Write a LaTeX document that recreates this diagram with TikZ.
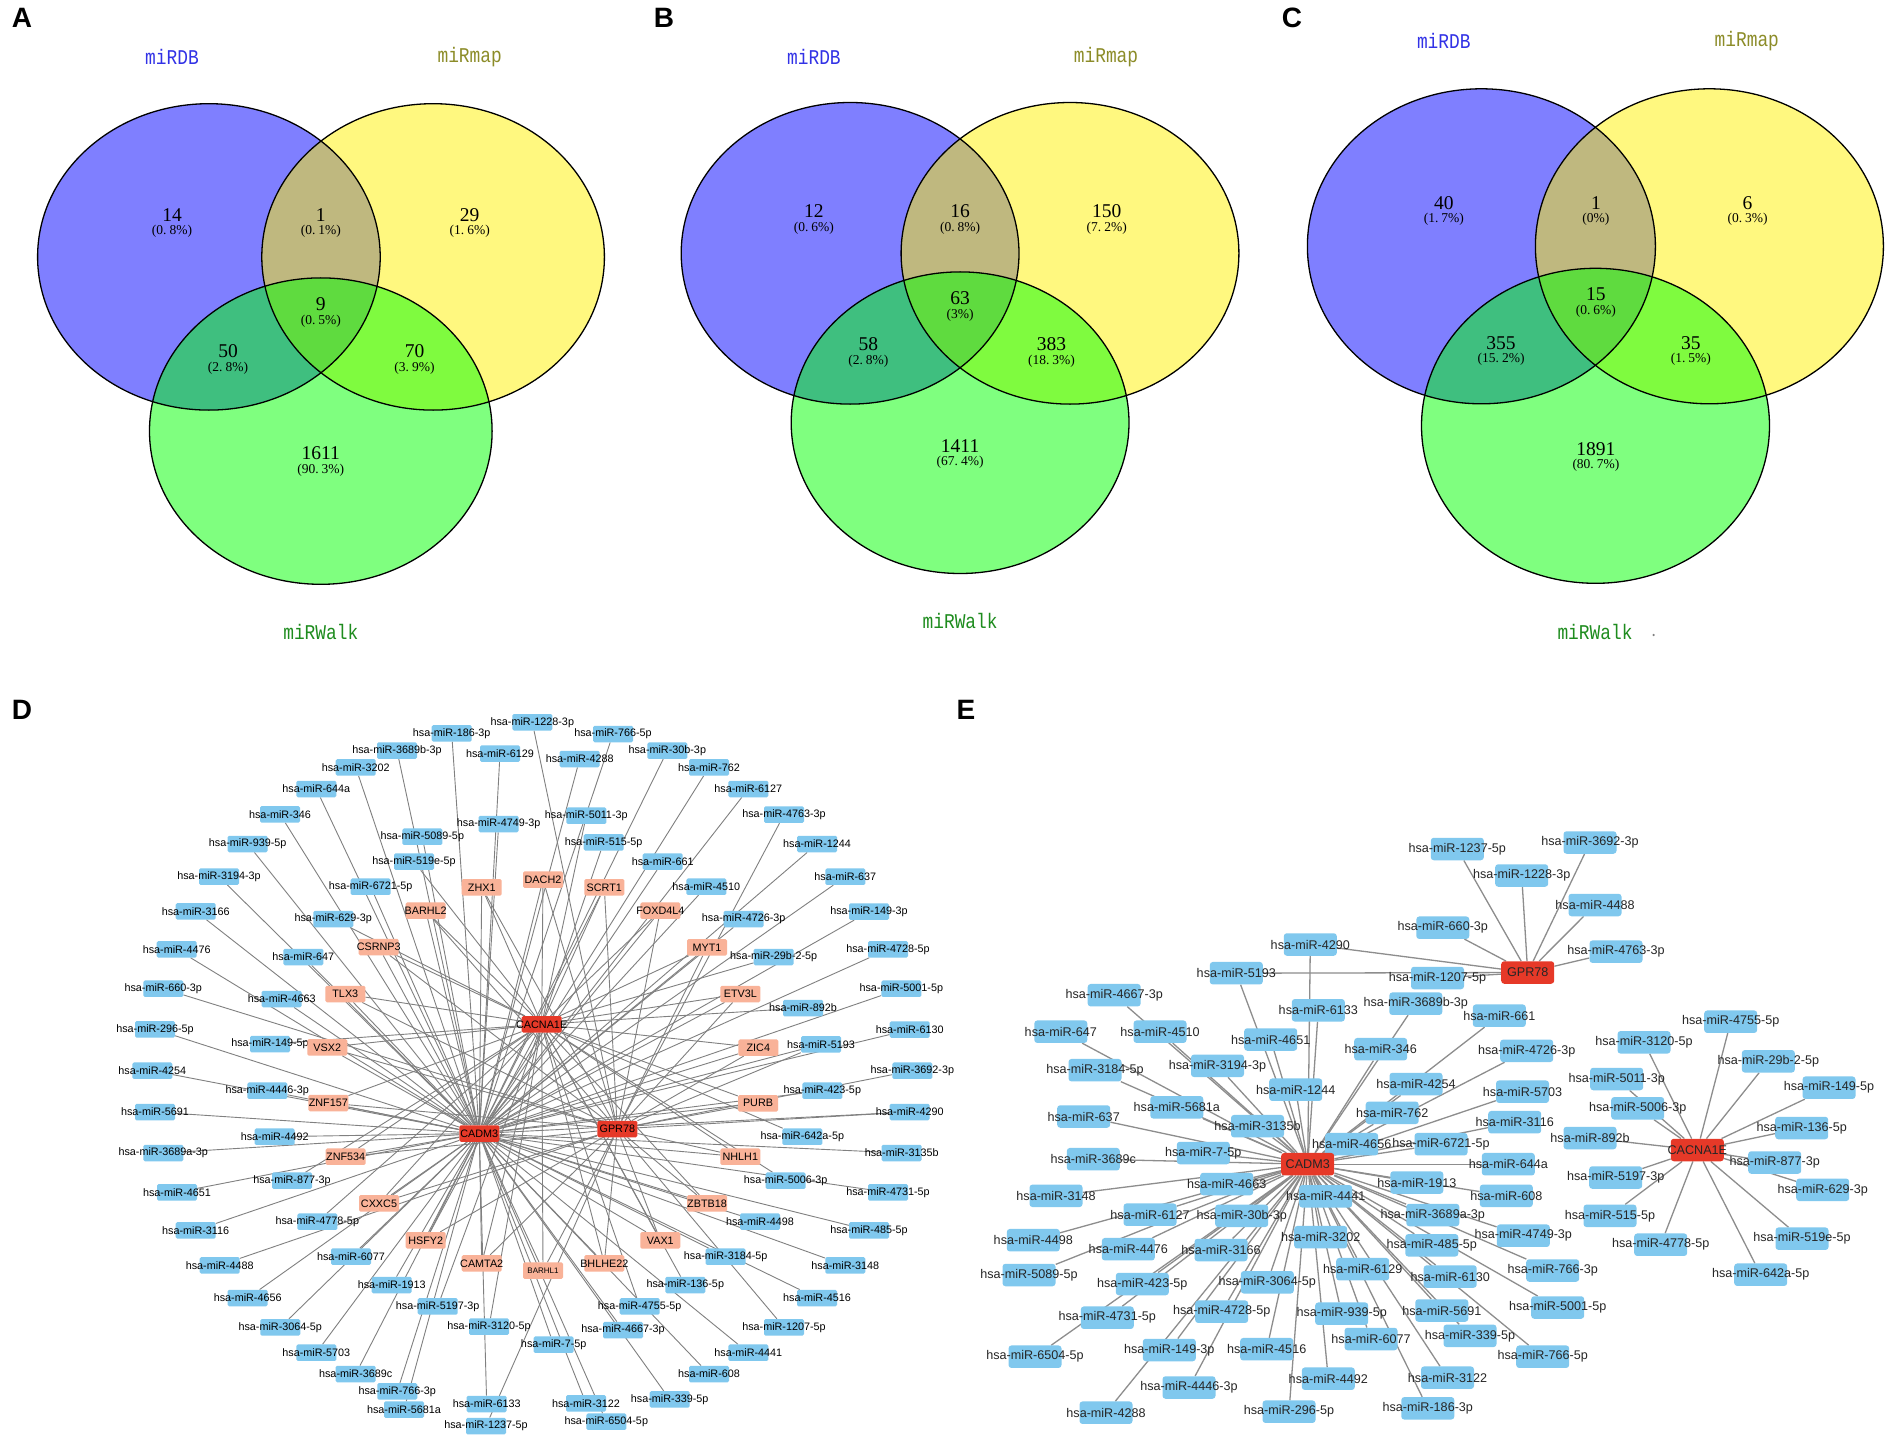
\documentclass[tikz,border=0pt]{standalone}
\usepackage{fontspec}
\setmainfont{Liberation Sans}
\newfontfamily\vennfont[FakeStretch=0.85]{Liberation Mono}
\newfontfamily\vennnum{Liberation Serif}
\usetikzlibrary{backgrounds}
\definecolor{mirblue}{RGB}{128,200,238}
\definecolor{genesalm}{RGB}{249,178,152}
\definecolor{hubred}{RGB}{230,57,40}
\definecolor{edgegray}{RGB}{128,128,128}
\definecolor{dbblue}{RGB}{50,50,230}
\definecolor{mapolive}{RGB}{140,140,40}
\definecolor{walkgreen}{RGB}{30,140,30}
\tikzset{
  panellab/.style={font=\fontsize{28bp}{30bp}\selectfont\bfseries, inner sep=0pt},
  vname/.style={font=\vennfont\fontsize{21bp}{23bp}\selectfont, inner sep=0pt},
  vnum/.style={font=\vennnum\fontsize{19.5bp}{21bp}\selectfont, inner sep=0pt},
  vpct/.style={font=\vennnum\fontsize{13.5bp}{15bp}\selectfont, inner sep=0pt},
  vline/.style={draw=black, line width=1.3bp},
  dlabel/.style={font=\fontsize{10.8bp}{12bp}\selectfont, inner sep=0pt, text=black},
  dsmall/.style={font=\fontsize{8bp}{9bp}\selectfont, inner sep=0pt, text=black},
  dbox/.style={rounded corners=1.5bp, minimum width=40bp, minimum height=16.5bp, inner sep=0pt},
  dmir/.style={dbox, fill=mirblue, label={[dlabel]center:#1}},
  dgene/.style={dbox, fill=genesalm, label={[dlabel]center:#1}},
  dhub/.style={dbox, fill=hubred, label={[dlabel]center:#1}},
  elabel/.style={font=\fontsize{12.6bp}{14bp}\selectfont, inner sep=0pt, text=black!85},
  ebox/.style={rounded corners=3bp, minimum width=53bp, minimum height=22.5bp, inner sep=0pt},
  emir/.style={ebox, fill=mirblue, label={[elabel]center:#1}},
  ehub/.style={ebox, fill=hubred, label={[elabel]center:#1}},
  dedge/.style={draw=edgegray, line width=0.9bp},
  eedge/.style={draw=edgegray!90, line width=1.3bp},
}
\newcommand\Dmir[3]{\node[dmir={hsa-miR-#1}] (d#1) at (#2,#3) {};}
\newcommand\Dgene[3]{\node[dgene={#1}] (d#1) at (#2,#3) {};}
\newcommand\Emir[3]{\node[emir={hsa-miR-#1}] (e#1) at (#2,#3) {};}
\newcommand\Dp{.\kern0.22em}
\newcommand\VennTri[7]{%
  \fill[blue, fill opacity=0.5] (#1,#4) ellipse [x radius=#6bp, y radius=#7bp];
  \fill[yellow, fill opacity=0.5] (#2,#4) ellipse [x radius=#6bp, y radius=#7bp];
  \fill[green, fill opacity=0.5] (#3,#5) ellipse [x radius=#6bp, y radius=#7bp];
  \draw[vline] (#1,#4) ellipse [x radius=#6bp, y radius=#7bp];
  \draw[vline] (#2,#4) ellipse [x radius=#6bp, y radius=#7bp];
  \draw[vline] (#3,#5) ellipse [x radius=#6bp, y radius=#7bp];}
\newcommand\Vreg[5]{\node[vnum] (#1n) at (#2,#3-1.2) {#4};
  \node[vpct] (#1p) at (#2,#3+15.6) {#5};}
\begin{document}
\begin{tikzpicture}[x=1bp,y=-1bp]
\useasboundingbox (0,0) rectangle (1890,1440);

% ---------------- Venn A ----------------
\node[panellab] (labA) at (22,18) {A};
\VennTri{208.9}{433.1}{320.8}{256.9}{431.1}{171.3}{153.2}
\node[vname, text=dbblue] (Adb) at (172,56.7) {miRDB};
\node[vname, text=mapolive] (Amap) at (469.7,56.7) {miRmap};
\node[vname, text=walkgreen] (Awalk) at (320.8,632) {miRWalk};
\Vreg{Aa}{172}{216}{14}{(0\Dp8\%)}
\Vreg{Ab}{320.8}{216}{1}{(0\Dp1\%)}
\Vreg{Ac}{469.7}{216}{29}{(1\Dp6\%)}
\Vreg{Ad}{320.8}{305.3}{9}{(0\Dp5\%)}
\Vreg{Ae}{228}{352.4}{50}{(2\Dp8\%)}
\Vreg{Af}{414.5}{352.4}{70}{(3\Dp9\%)}
\Vreg{Ag}{320.8}{454.3}{1611}{(90\Dp3\%)}

% ---------------- Venn B ----------------
\node[panellab] (labB) at (664,18) {B};
\VennTri{850.1}{1070.0}{960.1}{253.3}{422.7}{168.9}{150.8}
\node[vname, text=dbblue] (Bdb) at (813.9,56.7) {miRDB};
\node[vname, text=mapolive] (Bmap) at (1106,56.7) {miRmap};
\node[vname, text=walkgreen] (Bwalk) at (960.1,621.1) {miRWalk};
\Vreg{Ba}{813.9}{212.5}{12}{(0\Dp6\%)}
\Vreg{Bb}{960.1}{212.5}{16}{(0\Dp8\%)}
\Vreg{Bc}{1106.7}{212.5}{150}{(7\Dp2\%)}
\Vreg{Bd}{960.1}{299.3}{63}{(3\%)}
\Vreg{Be}{868.4}{345.5}{58}{(2\Dp8\%)}
\Vreg{Bf}{1051.5}{345.5}{383}{(18\Dp3\%)}
\Vreg{Bg}{960.1}{446.8}{1411}{(67\Dp4\%)}

% ---------------- Venn C ----------------
\node[panellab] (labC) at (1292,18) {C};
\VennTri{1481.4}{1709.4}{1595.5}{246.3}{425.8}{174.0}{157.5}
\node[vname, text=dbblue] (Cdb) at (1443.8,40.6) {miRDB};
\node[vname, text=mapolive] (Cmap) at (1746.8,40.6) {miRmap};
\node[vname, text=walkgreen] (Cwalk) at (1595,632) {miRWalk};
\fill[gray] (1653.6,635) circle [radius=1.2bp];
\Vreg{Ca}{1443.8}{204}{40}{(1\Dp7\%)}
\Vreg{Cb}{1595.9}{204}{1}{(0\%)}
\Vreg{Cc}{1747.6}{204}{6}{(0\Dp3\%)}
\Vreg{Cd}{1595.9}{295.7}{15}{(0\Dp6\%)}
\Vreg{Ce}{1501.1}{344}{355}{(15\Dp2\%)}
\Vreg{Cf}{1690.8}{344}{35}{(1\Dp5\%)}
\Vreg{Cg}{1595.9}{450}{1891}{(80\Dp7\%)}

% ---------------- Network D ----------------
\node[panellab] (labD) at (22,710) {D};
\Dmir{186-3p}{451.7}{733.3}
\Dmir{3689b-3p}{397}{750.7}
\Dmir{3202}{355.7}{767.3}
\Dmir{644a}{316.3}{789}
\Dmir{346}{280}{814.3}
\Dmir{939-5p}{247.7}{844}
\Dmir{3194-3p}{219}{876.7}
\Dmir{3166}{195.7}{911.3}
\Dmir{4476}{176.7}{949.3}
\Dmir{660-3p}{163.3}{988.7}
\Dmir{296-5p}{155}{1029.3}
\Dmir{4254}{152.3}{1070.7}
\Dmir{5089-5p}{422.3}{836.7}
\Dmir{519e-5p}{414}{861.7}
\Dmir{6721-5p}{370.7}{886.7}
\Dmir{629-3p}{333.3}{919}
\Dmir{647}{303.3}{957}
\Dmir{4663}{281.7}{999}
\Dmir{149-5p}{270}{1044}
\Dmir{4749-3p}{498.7}{824}
\Dmir{6129}{500}{753.7}
\Dmir{1228-3p}{532.3}{722.3}
\Dmir{766-5p}{613}{734}
\Dmir{4288}{579.7}{759}
\Dmir{30b-3p}{667.3}{750.7}
\Dmir{762}{709}{767.3}
\Dmir{6127}{748.3}{789}
\Dmir{4763-3p}{784}{814.7}
\Dmir{1244}{817}{844}
\Dmir{637}{845.3}{876.7}
\Dmir{149-3p}{869}{911.7}
\Dmir{4728-5p}{888}{949.3}
\Dmir{5001-5p}{901.3}{988.7}
\Dmir{6130}{909.7}{1029.7}
\Dmir{5011-3p}{586.3}{815.7}
\Dmir{515-5p}{603.7}{842.3}
\Dmir{661}{662.7}{861.7}
\Dmir{4510}{706.3}{886.7}
\Dmir{4726-3p}{743.7}{919}
\Dmir{29b-2-5p}{773.7}{957}
\Dmir{892b}{803}{1008}
\Dmir{5193}{821}{1044.3}
\Dmir{4446-3p}{267.3}{1090.7}
\Dmir{5691}{155}{1112}
\Dmir{4492}{274.7}{1136.7}
\Dmir{3689a-3p}{163.3}{1153}
\Dmir{877-3p}{292}{1180.7}
\Dmir{4651}{177}{1192.3}
\Dmir{4778-5p}{317.3}{1221.7}
\Dmir{3116}{195.7}{1230.3}
\Dmir{4488}{219.7}{1265.3}
\Dmir{6077}{351}{1256.7}
\Dmir{1913}{391.7}{1285}
\Dmir{4656}{247.7}{1298}
\Dmir{5197-3p}{437.7}{1306.3}
\Dmir{3064-5p}{280.3}{1327.3}
\Dmir{3120-5p}{489}{1326.7}
\Dmir{5703}{316.3}{1352.7}
\Dmir{3689c}{355.7}{1374}
\Dmir{766-3p}{397.3}{1391.3}
\Dmir{5681a}{404}{1409.7}
\Dmir{6133}{486.7}{1404}
\Dmir{1237-5p}{486}{1426}
\Dmir{3692-3p}{912.3}{1070.7}
\Dmir{423-5p}{822.3}{1090.7}
\Dmir{4290}{909.7}{1112}
\Dmir{642a-5p}{802.3}{1136.7}
\Dmir{3135b}{901.7}{1153}
\Dmir{5006-3p}{785.7}{1180.7}
\Dmir{4731-5p}{888}{1192.3}
\Dmir{4498}{760}{1221.7}
\Dmir{485-5p}{869}{1230.3}
\Dmir{3184-5p}{725.7}{1256.7}
\Dmir{3148}{845.3}{1265.3}
\Dmir{136-5p}{685.3}{1285}
\Dmir{4516}{817}{1298}
\Dmir{4755-5p}{639.7}{1306.3}
\Dmir{1207-5p}{784}{1327.3}
\Dmir{4667-3p}{623}{1330}
\Dmir{7-5p}{553.7}{1344.7}
\Dmir{4441}{748.3}{1352.7}
\Dmir{608}{709}{1374}
\Dmir{339-5p}{669.7}{1399.3}
\Dmir{3122}{586}{1403.3}
\Dmir{6504-5p}{606.3}{1421.7}
\Dgene{BARHL2}{425.7}{910.7}
\Dgene{CSRNP3}{378.7}{947}
\Dgene{TLX3}{345.3}{994}
\Dgene{VSX2}{327.3}{1047.3}
\Dgene{ZHX1}{481.7}{887.3}
\Dgene{DACH2}{543}{879.7}
\Dgene{SCRT1}{604.3}{887.3}
\Dgene{FOXD4L4}{660.3}{910.7}
\Dgene{MYT1}{707}{947.3}
\Dgene{ETV3L}{740.3}{994}
\Dgene{ZIC4}{758.3}{1047.7}
\Dgene{ZNF157}{328.3}{1103}
\Dgene{ZNF534}{345.7}{1156.7}
\Dgene{CXXC5}{379}{1203.3}
\Dgene{HSFY2}{425.7}{1240.3}
\Dgene{CAMTA2}{481.7}{1263.3}
\Dgene{PURB}{758}{1103.3}
\Dgene{NHLH1}{740.3}{1156.7}
\Dgene{ZBTB18}{707}{1203.3}
\Dgene{VAX1}{660.3}{1240.3}
\Dgene{BHLHE22}{604.3}{1263.3}
\node[dbox, fill=genesalm, label={[dsmall]center:BARHL1}] (dBARHL1) at (543,1270.7) {};
\node[dhub=CADM3] (dCADM3) at (479.3,1133.5) {};
\node[dhub=CACNA1E] (dCACNA1E) at (541.7,1024.3) {};
\node[dhub=GPR78] (dGPR78) at (617.3,1129) {};

% ---------------- Network E ----------------
\node[panellab] (labE) at (966,710) {E};
\Emir{4290}{1310.3}{944.5}
\Emir{5193}{1236.3}{973.2}
\Emir{4667-3p}{1114.2}{995.2}
\Emir{647}{1060.8}{1031.7}
\Emir{4510}{1160}{1031.7}
\Emir{6133}{1318.3}{1010.3}
\Emir{4651}{1270.7}{1039.5}
\Emir{3194-3p}{1217.5}{1065.8}
\Emir{346}{1380.7}{1049.2}
\Emir{3184-5p}{1095}{1070.2}
\Emir{1244}{1295.7}{1089.7}
\Emir{5681a}{1176.8}{1107.3}
\Emir{637}{1083.7}{1116.5}
\Emir{3135b}{1257.5}{1126.2}
\Emir{762}{1392.2}{1112.8}
\Emir{3689b-3p}{1415.8}{1003.7}
\Emir{4254}{1416}{1084}
\Emir{661}{1499.3}{1015.7}
\Emir{4726-3p}{1526.7}{1050.8}
\Emir{5703}{1522.5}{1091.7}
\Emir{3116}{1514.7}{1122.2}
\Emir{1237-5p}{1457.3}{849}
\Emir{1228-3p}{1521.7}{875.5}
\Emir{3692-3p}{1590}{842.5}
\Emir{4488}{1595}{905}
\Emir{660-3p}{1442.8}{927.7}
\Emir{4763-3p}{1616}{951.7}
\Emir{1207-5p}{1437.5}{978}
\Emir{4755-5p}{1730.7}{1021.7}
\Emir{3120-5p}{1644}{1042.3}
\Emir{29b-2-5p}{1768.3}{1061.3}
\Emir{5011-3p}{1616.7}{1079}
\Emir{149-5p}{1829}{1087.7}
\Emir{5006-3p}{1637.7}{1108.3}
\Emir{136-5p}{1801.7}{1128}
\Emir{892b}{1590}{1138}
\Emir{877-3p}{1774.7}{1162.5}
\Emir{5197-3p}{1615.7}{1177.5}
\Emir{629-3p}{1822.7}{1189.8}
\Emir{515-5p}{1610}{1215.8}
\Emir{4778-5p}{1660.7}{1244.7}
\Emir{519e-5p}{1802}{1238.7}
\Emir{642a-5p}{1760.7}{1274.7}
\Emir{6721-5p}{1441}{1144.2}
\Emir{644a}{1508.3}{1164.2}
\Emir{1913}{1416.8}{1182.5}
\Emir{608}{1506.3}{1195.8}
\Emir{3689a-3p}{1432.8}{1215}
\Emir{4749-3p}{1523.3}{1235.7}
\Emir{485-5p}{1431.8}{1245.3}
\Emir{766-3p}{1552.7}{1270.5}
\Emir{6130}{1450.2}{1276.5}
\Emir{5001-5p}{1557.7}{1307.5}
\Emir{5691}{1441.8}{1310.5}
\Emir{339-5p}{1470}{1335.8}
\Emir{766-5p}{1542.7}{1356.7}
\Emir{3122}{1447.5}{1377.7}
\Emir{186-3p}{1427.8}{1408.3}
\Emir{3689c}{1093.3}{1159.2}
\Emir{7-5p}{1203.3}{1153}
\Emir{4656}{1351.7}{1144.2}
\Emir{4663}{1226.7}{1184}
\Emir{3148}{1056}{1195.8}
\Emir{4441}{1325.7}{1196.3}
\Emir{6127}{1150}{1214.7}
\Emir{30b-3p}{1241.7}{1215.8}
\Emir{4498}{1033.3}{1240.2}
\Emir{4476}{1128.3}{1249.2}
\Emir{3166}{1221}{1250}
\Emir{3202}{1320.7}{1237.2}
\Emir{5089-5p}{1029}{1275}
\Emir{6129}{1362.7}{1269.2}
\Emir{423-5p}{1142.3}{1284}
\Emir{3064-5p}{1267.3}{1282.3}
\Emir{4731-5p}{1107.3}{1317.7}
\Emir{4728-5p}{1221.7}{1311.7}
\Emir{939-5p}{1341.7}{1313.7}
\Emir{6077}{1371}{1339}
\Emir{6504-5p}{1035}{1356.7}
\Emir{149-3p}{1169.3}{1350}
\Emir{4516}{1266.7}{1349.2}
\Emir{4446-3p}{1189}{1387.5}
\Emir{4492}{1328.3}{1378.7}
\Emir{4288}{1106}{1412.7}
\Emir{296-5p}{1289}{1411.7}
\node[ehub=CADM3] (eCADM3) at (1307.7,1164.2) {};
\node[ehub=GPR78] (eGPR78) at (1527.7,972.5) {};
\node[ehub=CACNA1E] (eCACNA1E) at (1697.3,1150) {};

% ---------------- edges ----------------
\begin{pgfonlayer}{background}
\fill[white] (0,0) rectangle (1890,1440);
\foreach \m in {4667-3p,647,4510,3184-5p,3194-3p,4651,6133,3689b-3p,661,346,4726-3p,4254,1244,5681a,637,762,5703,3135b,3116,4656,6721-5p,3689c,7-5p,644a,1913,608,3148,4663,4441,3689a-3p,4749-3p,6127,30b-3p,485-5p,4498,4476,3166,3202,766-3p,5089-5p,423-5p,3064-5p,6129,6130,5001-5p,4731-5p,4728-5p,939-5p,5691,339-5p,766-5p,6504-5p,149-3p,4516,6077,3122,4288,4446-3p,4492,296-5p,186-3p,4290,5193}{
  \draw[dedge] (d\m) -- (dCADM3);
  \draw[eedge] (e\m) -- (eCADM3);
}
\foreach \m in {1237-5p,1228-3p,3692-3p,4488,4763-3p,660-3p,1207-5p,5193,4290}{
  \draw[dedge] (d\m) -- (dGPR78);
  \draw[eedge] (e\m) -- (eGPR78);
}
\foreach \m in {4755-5p,3120-5p,29b-2-5p,149-5p,5011-3p,5006-3p,136-5p,892b,877-3p,5197-3p,629-3p,515-5p,4778-5p,519e-5p,642a-5p}{
  \draw[dedge] (d\m) -- (dCACNA1E);
  \draw[eedge] (e\m) -- (eCACNA1E);
}
\foreach \g in {BARHL2,CSRNP3,TLX3,VSX2,ZHX1,DACH2,SCRT1,FOXD4L4,MYT1,ETV3L,ZIC4,ZNF157,ZNF534,CXXC5,HSFY2,CAMTA2,PURB,NHLH1,ZBTB18,VAX1,BARHL1,BHLHE22}{
  \draw[dedge] (d\g) -- (dCADM3);
  \draw[dedge] (d\g) -- (dCACNA1E);
  \draw[dedge] (d\g) -- (dGPR78);
}
\end{pgfonlayer}
\end{tikzpicture}
\end{document}
